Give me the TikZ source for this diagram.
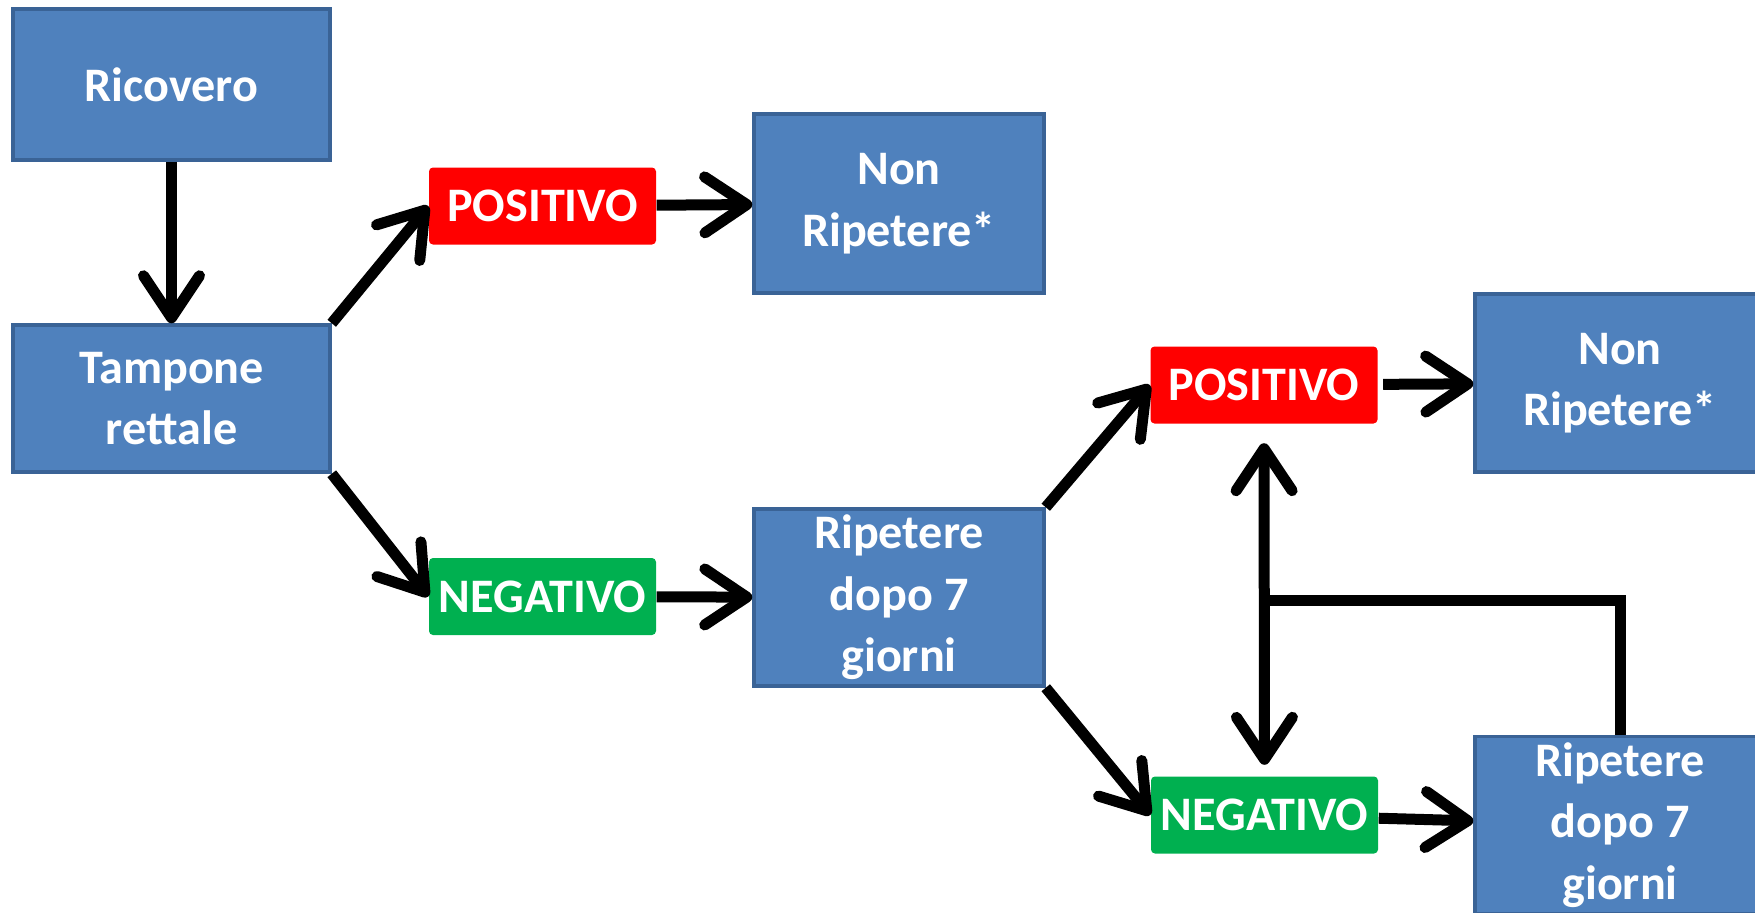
\documentclass[tikz,border=0pt]{standalone}
\usepackage{fontspec}
\setmainfont{Carlito}
\usetikzlibrary{arrows.meta, calc}

\definecolor{boxblue}{HTML}{4F81BD}
\definecolor{boxedge}{HTML}{3A6396}
\definecolor{posred}{HTML}{FF0000}
\definecolor{neggreen}{HTML}{00B050}

\begin{document}
\begin{tikzpicture}[>={Straight Barb[length=4.2mm, width=5.6mm, round]},
  font=\bfseries\fontsize{13.7}{17.5}\selectfont,
  box/.style={draw=boxedge, fill=boxblue, line width=0.35mm, text=white, align=center, inner sep=0pt},
  result/.style={text=white, rounded corners=0.4mm, minimum width=22.7mm, minimum height=7.7mm, inner sep=0pt},
  flow/.style={->, line width=1.1mm}]
\useasboundingbox (0,0) rectangle (17.55,-9.12);
%
\node[box, minimum width=31.7mm, minimum height=15.1mm, text depth=-0.6mm] (ricovero) at (1.715,-0.845) {Ricovero};
\node[box, minimum width=31.7mm, minimum height=14.7mm] (tampone) at (1.715,-3.985) {Tampone\\rettale};
%
\node[result, fill=posred] (pos1) at (5.425,-2.06) {POSITIVO};
\node[result, fill=neggreen] (neg1) at (5.425,-5.965) {NEGATIVO};
\node[box, minimum width=29mm, minimum height=17.9mm] (nonrip1) at (8.99,-2.035) {Non\\Ripetere*};
\node[box, minimum width=29mm, minimum height=17.7mm] (rip1) at (8.99,-5.975) {Ripetere\\dopo 7\\giorni};
%
\node[result, fill=posred] (pos2) at (12.64,-3.85) {POSITIVO};
\node[result, fill=neggreen] (neg2) at (12.645,-8.15) {NEGATIVO};
\node[box, minimum width=29mm, minimum height=17.8mm] (nonrip2) at (16.2,-3.83) {Non\\Ripetere*};
\node[box, minimum width=29mm, minimum height=17.7mm] (rip2) at (16.2,-8.25) {Ripetere\\dopo 7\\giorni};
%
\draw[flow] (ricovero) -- (tampone);
\draw[flow] (tampone.north east) -- (pos1.west);
\draw[flow] (tampone.south east) -- (neg1.west);
\draw[flow] (pos1) -- (nonrip1);
\draw[flow] (neg1) -- (rip1);
%
\draw[flow] (rip1.north east) -- (pos2.west);
\draw[flow] (rip1.south east) -- (neg2.west);
\draw[flow, shorten <=0.5mm] (pos2) -- (nonrip2);
\draw[flow] (neg2) -- (rip2);
%
\coordinate (mid) at ($(pos2.south)!.5!(neg2.north)$);
\draw[flow, <->, shorten <=1.9mm, shorten >=1.1mm] (pos2.south) -- (neg2.north);
\draw[line width=1.1mm] (rip2.north) |- (mid);
\end{tikzpicture}
\end{document}
